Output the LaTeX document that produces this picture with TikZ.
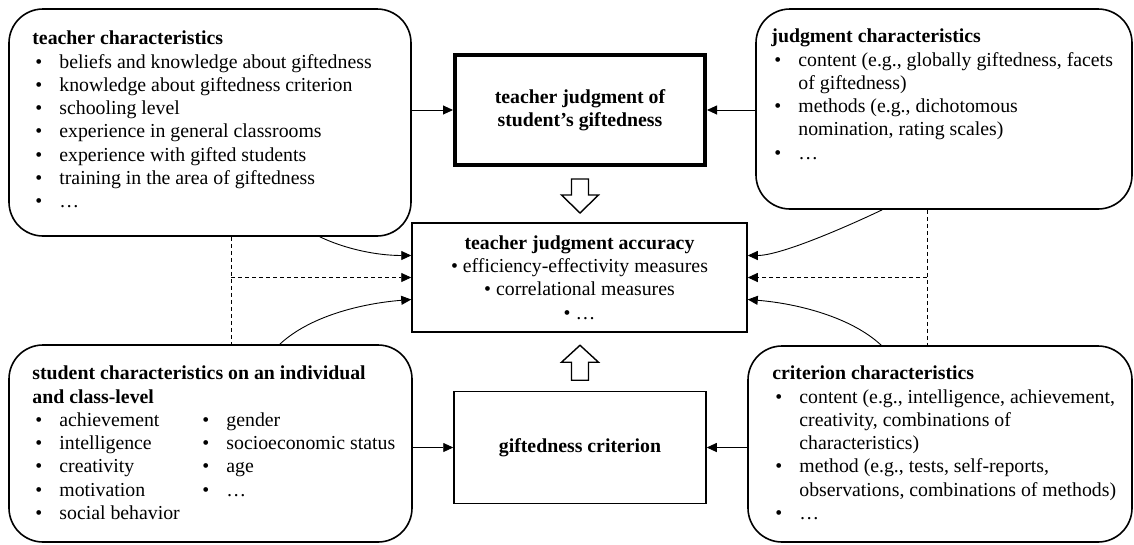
\documentclass[tikz,border=0pt]{standalone}
\usepackage{fontspec}
\setmainfont{Liberation Serif}
\usetikzlibrary{arrows.meta}
\newcommand{\fs}{\fontsize{19.8}{23.3}\selectfont}
\newcommand{\itm}{\hspace*{3pt}\makebox[24pt][l]{\textbullet}}
\newcommand{\cnt}{\hspace*{27pt}}

\begin{document}
\begin{tikzpicture}[x=1pt,y=-1pt,
  every node/.style={font=\fs},
  charbox/.style={draw,line width=1.6pt,rounded corners=34pt,inner sep=0pt},
  listtext/.style={anchor=north west,inner sep=0pt,align=left},
  midbox/.style={draw,line width=1.5pt,inner sep=0pt,align=center},
  link/.style={line width=0.9pt,-{Triangle[length=10pt,width=9pt]}},
  dashline/.style={line width=0.8pt,dash pattern=on 4pt off 3pt},
  dlink/.style={link,dash pattern=on 4pt off 3pt},
  fatarrow/.style={draw,line width=1.4pt,fill=white}]
\useasboundingbox (0,0) rectangle (1134,544);

% the four groups of characteristics
\node[charbox,minimum width=402,minimum height=227] (tch) at (210,122.5) {};
\node[charbox,minimum width=376,minimum height=200] (jch) at (944,109) {};
\node[charbox,minimum width=403,minimum height=197] (sch) at (210.5,443.5) {};
\node[charbox,minimum width=384,minimum height=196] (cch) at (940,444) {};

\node[listtext] (tcht) at ([shift={(24,22.6)}]tch.north west) {\textbf{teacher characteristics}\\
\itm beliefs and knowledge about giftedness\\
\itm knowledge about giftedness criterion\\
\itm schooling level\\
\itm experience in general classrooms\\
\itm experience with gifted students\\
\itm training in the area of giftedness\\
\itm …};
\node[listtext] (jcht) at ([shift={(16,20.6)}]jch.north west) {\textbf{judgment characteristics}\\
\itm content (e.g., globally giftedness, facets\\
\cnt of giftedness)\\
\itm methods (e.g., dichotomous\\
\cnt nomination, rating scales)\\
\itm …};
\node[listtext] (scht) at ([shift={(24,21.6)}]sch.north west) {\textbf{student characteristics on an individual}\\
\textbf{and class-level}\\
\itm\makebox[140pt][l]{achievement}\itm gender\\
\itm\makebox[140pt][l]{intelligence}\itm socioeconomic status\\
\itm\makebox[140pt][l]{creativity}\itm age\\
\itm\makebox[140pt][l]{motivation}\itm …\\
\itm social behavior};
\node[listtext] (ccht) at ([shift={(25,20.6)}]cch.north west) {\textbf{criterion characteristics}\\
\itm content (e.g., intelligence, achievement,\\
\cnt creativity, combinations of\\
\cnt characteristics)\\
\itm method (e.g., tests, self-reports,\\
\cnt observations, combinations of methods)\\
\itm …};

% the middle column
\node[midbox,line width=4pt,minimum width=250,minimum height=110,font=\fs\bfseries] (tj) at (580,110) {teacher judgment of\\student’s giftedness};
\node[midbox,minimum width=335,minimum height=109] (acc) at (579.5,277.5) {\textbf{teacher judgment accuracy}\\• efficiency-effectivity measures\\• correlational measures\\• …};
\node[midbox,minimum width=252,minimum height=112,font=\fs\bfseries] (gc) at (580,447.5) {giftedness criterion};

\draw[fatarrow] ([shift={(-8.5,12)}]tj.south) -- ++(17,0) -- ++(0,16) -- ++(10,0) -- ++(-18.5,18) -- ++(-18.5,-18) -- ++(10,0) -- cycle;
\draw[fatarrow] ([shift={(-8.5,-10.5)}]gc.north) -- ++(17,0) -- ++(0,-18) -- ++(10,0) -- ++(-18.5,-17) -- ++(-18.5,17) -- ++(10,0) -- cycle;

% straight connectors
\draw[link] (tch.east |- tj.west) -- (tj.west);
\draw[link] (jch.west |- tj.east) -- (tj.east);
\draw[link] (sch.east |- gc.west) -- (gc.west);
\draw[link] (cch.west |- gc.east) -- (gc.east);

% curved connectors
\draw[link] ([xshift=-92pt]tch.south east) .. controls +(25,12) and +(-35,0) .. ([shift={(0,-22)}]acc.west);
\draw[link] ([xshift=-133pt]sch.north east) .. controls +(30,-28) and +(-50,4) .. ([shift={(0,22)}]acc.west);
\draw[link] ([xshift=127pt]jch.south west) .. controls +(-25,12) and +(35,0) .. ([shift={(0,-22)}]acc.east);
\draw[link] ([xshift=134pt]cch.north west) .. controls +(-30,-28) and +(50,4) .. ([shift={(0,22)}]acc.east);

% dashed connectors
\coordinate (ld) at ([xshift=223pt]tch.south west);
\coordinate (rd) at ([xshift=172pt]jch.south west);
\draw[dashline] (ld) -- (ld |- sch.north);
\draw[dashline] (rd) -- (rd |- cch.north);
\draw[dlink] (ld |- acc.west) -- (acc.west);
\draw[dlink] (rd |- acc.east) -- (acc.east);
\end{tikzpicture}
\end{document}
